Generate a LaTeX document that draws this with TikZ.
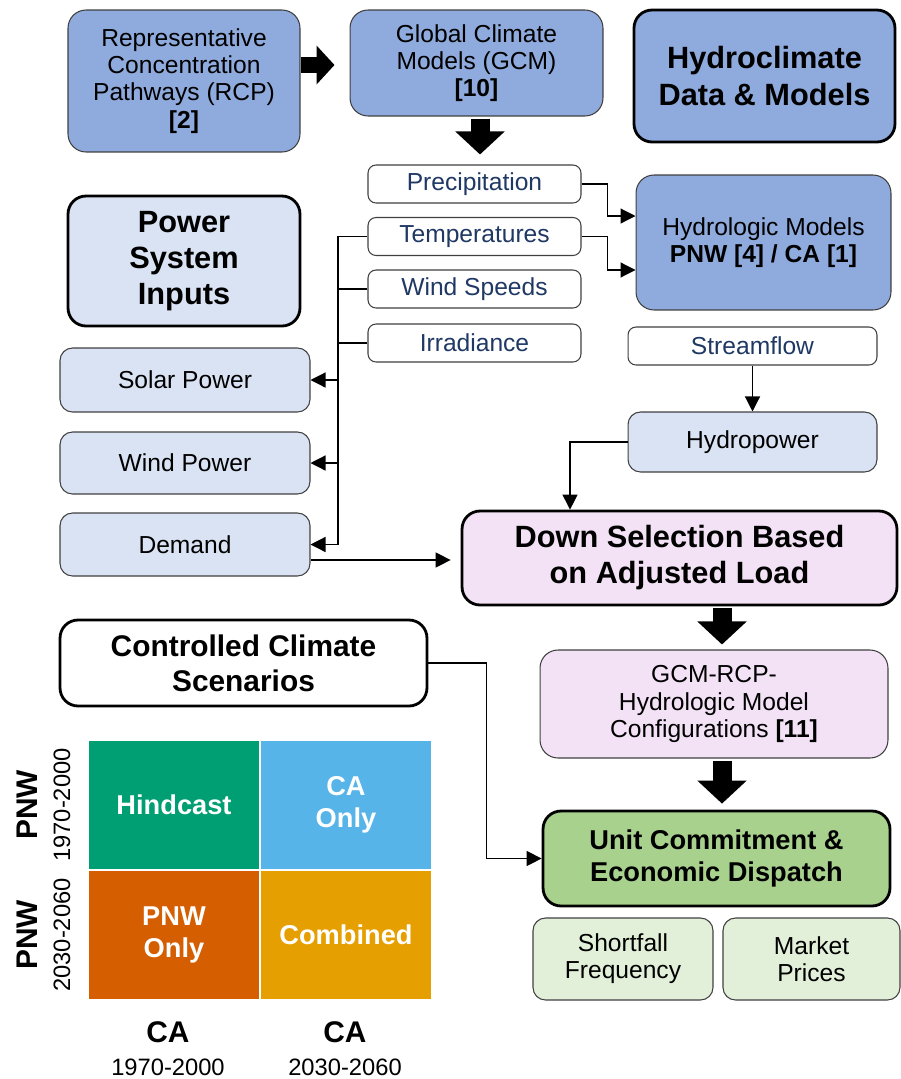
\documentclass[tikz,border=0pt]{standalone}
\usepackage{fontspec}
\setmainfont{Liberation Sans}
\usetikzlibrary{positioning,arrows.meta}
\definecolor{hydroblue}{HTML}{8FAADC}
\definecolor{paleblue}{HTML}{DAE3F3}
\definecolor{palepink}{HTML}{F3E1F5}
\definecolor{ucgreen}{HTML}{A9D18E}
\definecolor{palegreen}{HTML}{E2F0D9}
\definecolor{inputtext}{HTML}{1F3864}
\definecolor{hindgreen}{HTML}{009E73}
\definecolor{caskyblue}{HTML}{56B4E9}
\definecolor{pnwred}{HTML}{D55E00}
\definecolor{combyellow}{HTML}{E69F00}

\begin{document}
\begin{tikzpicture}[x=0.02cm, y=-0.02cm,
    box/.style={draw=black!75, line width=0.6pt, rounded corners=0.36cm, align=center, inner sep=0pt,
        font=\fontsize{14}{15.5}\selectfont},
    headbox/.style={box, draw=black, line width=1.6pt, font=\fontsize{17.5}{20.5}\bfseries},
    inbox/.style={box, fill=white, rounded corners=0.16cm, text=inputtext,
        minimum width=4.26cm, minimum height=0.76cm},
    psbox/.style={box, fill=paleblue, rounded corners=0.25cm, minimum width=5cm},
    cell/.style={draw=white, line width=1.2pt, text=white, align=center, inner sep=0pt,
        minimum width=3.44cm, minimum height=2.6cm, font=\fontsize{15.5}{18}\bfseries},
    arr/.style={line width=0.7pt, -{Triangle[length=0.3cm,width=0.3cm]}},
    fat/.style={line width=0.38cm, -{Triangle[length=0.46cm,width=0.96cm]}},
    fatsmall/.style={line width=0.32cm, -{Triangle[length=0.36cm,width=0.76cm]}}]
\useasboundingbox (0,0) rectangle (900,1079);

% hydroclimate side
\node[box, fill=hydroblue, minimum width=4.64cm, minimum height=2.84cm] (rcp) at (184,81)
    {Representative\\Concentration\\Pathways (RCP)\\\textbf{[2]}};
\node[box, fill=hydroblue, minimum width=5.06cm, minimum height=2.12cm] (gcm) at (476.5,63)
    {Global Climate\\Models (GCM)\\\textbf{[10]}};
\node[headbox, fill=hydroblue, minimum width=5.22cm, minimum height=2.64cm] (hcd) at (764.5,76)
    {Hydroclimate\\Data \& Models};

\node[inbox] (prec) at (474.5,184) {Precipitation};
\node[inbox] (temp) at (474.5,236.5) {Temperatures};
\node[inbox] (wspd) at (474.5,289) {Wind Speeds};
\node[inbox] (irr) at (474.5,343) {Irradiance};

\node[box, fill=hydroblue, minimum width=5.1cm, minimum height=2.7cm] (hyd) at (763.5,242.5)
    {Hydrologic Models\\\textbf{PNW [4] / CA [1]}};
\node[inbox, minimum width=4.98cm] (stream) at (752.5,346) {Streamflow};
\node[psbox, minimum width=4.98cm, minimum height=1.2cm] (hpow) at (752.5,442) {Hydropower};

% power system side
\node[headbox, fill=paleblue, minimum width=4.64cm, minimum height=2.6cm] (psi) at (184,261)
    {Power\\System\\Inputs};
\node[psbox, minimum height=1.28cm] (solar) at (185,380) {Solar Power};
\node[psbox, minimum height=1.24cm] (wind) at (185,463) {Wind Power};
\node[psbox, minimum height=1.26cm] (dem) at (185,544.5) {Demand};

\node[headbox, fill=palepink, minimum width=8.7cm, minimum height=1.88cm] (down) at (679.5,558)
    {Down Selection Based\\on Adjusted Load};
\node[box, fill=palepink, minimum width=6.96cm, minimum height=2.16cm] (cfg) at (714,704)
    {GCM-RCP-\\Hydrologic Model\\Configurations \textbf{[11]}};
\node[headbox, fill=ucgreen, minimum width=6.94cm, minimum height=1.9cm,
    font=\fontsize{15.5}{18.5}\bfseries] (uc) at (716.5,858.5)
    {Unit Commitment \&\\Economic Dispatch};
\node[box, fill=palegreen, rounded corners=0.25cm, minimum width=3.6cm, minimum height=1.64cm] (short) at (623,959)
    {Shortfall\\Frequency};
\node[box, fill=palegreen, rounded corners=0.25cm, minimum width=3.54cm, minimum height=1.64cm] (price) at (811.5,959)
    {Market\\Prices};

% scenarios
\node[headbox, fill=white, minimum width=7.34cm, minimum height=1.72cm,
    font=\fontsize{17}{20}\bfseries] (ccs) at (243.5,663) {Controlled Climate\\Scenarios};
\node[cell, fill=hindgreen] (hind) at (174,805) {Hindcast};
\node[cell, fill=caskyblue] (caonly) at (346,805) {CA\\Only};
\node[cell, fill=pnwred] (pnwonly) at (174,935) {PNW\\Only};
\node[cell, fill=combyellow] (comb) at (346,935) {Combined};

\node[rotate=90, font=\fontsize{17}{17}\bfseries] (pnwa) at (27,805) {PNW};
\node[rotate=90, font=\fontsize{13.5}{13.5}\selectfont] (pnwya) at (62,805) {1970-2000};
\node[rotate=90, font=\fontsize{17}{17}\bfseries] (pnwb) at (27,935) {PNW};
\node[rotate=90, font=\fontsize{13.5}{13.5}\selectfont] (pnwyb) at (62,935) {2030-2060};
\node[font=\fontsize{17}{17}\bfseries] (caa) at (168,1032) {CA};
\node[font=\fontsize{13.5}{13.5}\selectfont] (caya) at (168,1067) {1970-2000};
\node[font=\fontsize{17}{17}\bfseries] (cab) at (345,1032) {CA};
\node[font=\fontsize{13.5}{13.5}\selectfont] (cayb) at (345,1067) {2030-2060};

% block arrows
\draw[fatsmall, shorten >=0.3cm] ([yshift=0.32cm]rcp.east) -- ([yshift=0.32cm]rcp.east -| gcm.west);
\draw[fat, shorten <=0.04cm, shorten >=0.2cm] ([xshift=0.07cm]gcm.south) -- ([xshift=0.07cm]gcm.south |- prec.north);
\draw[fat, shorten <=0.04cm, shorten >=0.1cm] ([xshift=0.16cm]cfg.north |- down.south) -- ([xshift=0.16cm]cfg.north);
\draw[fat, shorten <=0.04cm, shorten >=0.12cm] ([xshift=0.16cm]cfg.south) -- ([xshift=0.16cm]cfg.south |- uc.north);

% connectors
\draw[arr] (prec.east) -- ++(26,0) |- ([yshift=0.53cm]hyd.west);
\draw[arr] (temp.east) -- ++(26,0) |- ([yshift=-0.55cm]hyd.west);

\coordinate (tt) at (338,236.5);
\coordinate (tb) at (338,544.5);
\draw[line width=0.7pt] (temp.west) -- (tt) -- (tb);
\draw[line width=0.7pt] (wspd.west) -- (wspd.west -| tt);
\draw[line width=0.7pt] (irr.west) -- (irr.west -| tt);
\draw[arr] (solar.east -| tt) -- (solar.east);
\draw[arr] (wind.east -| tt) -- (wind.east);
\draw[arr] (tb) -- (dem.east);

\draw[arr, shorten >=0.2cm] ([yshift=-0.31cm]dem.east) -- ([yshift=-0.31cm]dem.east -| down.west);
\draw[arr] (stream.south) -- (hpow.north);
\draw[arr] (hpow.west) -| ([xshift=-2.19cm]down.north);
\draw[arr] (ccs.east) -- ++(58,0) |- (uc.west);

\end{tikzpicture}
\end{document}
